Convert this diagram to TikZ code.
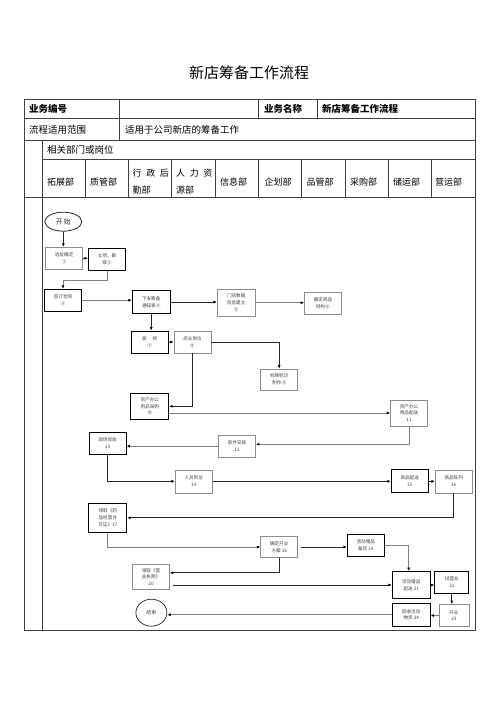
\documentclass[tikz,border=0pt]{standalone}
\usepackage{fontspec}
\setmainfont{Noto Sans CJK SC}
\usetikzlibrary{arrows.meta,calc,shapes.geometric}
\begin{document}
\begin{tikzpicture}[x=1pt,y=-1pt,
  gridline/.style={draw=black!75,line width=0.8pt},
  boxk/.style={draw=black,line width=0.8pt,fill=white,inner sep=0pt,align=center,
    font=\fontsize{4.6}{6.6}\selectfont,text=black!75},
  boxg/.style={boxk,draw=black!45,line width=0.6pt},
  lk/.style={draw=black!85,line width=0.8pt,-{Latex[length=3.5pt,width=3pt,color=black]}},
  lg/.style={lk,draw=black!50},
  hd/.style={anchor=west,inner sep=0pt,font=\fontsize{9.5}{11}\selectfont},
  hdb/.style={hd,font=\fontsize{9.5}{11}\selectfont\bfseries},
  dept/.style={anchor=west,inner sep=0pt,align=left,font=\fontsize{9}{17}\selectfont}
]
\useasboundingbox (0,0) rectangle (500,707);
% title
\node[font=\fontsize{15}{17}\selectfont] (title) at (249,73) {新店筹备工作流程};
% header table
\draw[gridline] (24,99) rectangle (475,630);
\draw[gridline] (24,118.5) -- (475,118.5);
\draw[gridline] (24,140) -- (475,140);
\draw[gridline] (42.5,159) -- (475,159);
\draw[gridline] (24,197) -- (475,197);
\draw[gridline] (42.5,140) -- (42.5,630);
\draw[gridline] (119.3,99) -- (119.3,140);
\draw[gridline] (258.3,99) -- (258.3,118.5);
\draw[gridline] (317.7,99) -- (317.7,118.5);
\foreach \xx in {85.7,128.5,171.7,215,258.3,301.7,345,388.3,431.7}
  \draw[gridline] (\xx,159) -- (\xx,197);
\node[hdb] (h1) at (29,109) {业务编号};
\node[hdb] (h2) at (264,109) {业务名称};
\node[hdb] (h3) at (322,109) {新店筹备工作流程};
\node[hd] (h4) at (29,129.5) {流程适用范围};
\node[hd] (h5) at (125,129.5) {适用于公司新店的筹备工作};
\node[hd] (h6) at (47,149.5) {相关部门或岗位};
\node[dept] (d1) at (47,181.7) {拓展部};
\node[dept] (d2) at (90,181.7) {质管部};
\node[dept] (d3) at (132.5,181.7) {行\hspace{4.6pt}政\hspace{4.6pt}后\\勤部};
\node[dept] (d4) at (176,181.7) {人\hspace{4.6pt}力\hspace{4.6pt}资\\源部};
\node[dept] (d5) at (220,181.7) {信息部};
\node[dept] (d6) at (264.5,181.7) {企划部};
\node[dept] (d7) at (306.5,181.7) {品管部};
\node[dept] (d8) at (350,181.7) {采购部};
\node[dept] (d9) at (393,181.7) {储运部};
\node[dept] (d10) at (435,181.7) {营运部};
% flow nodes
\node[ellipse,draw=black!85,line width=0.8pt,minimum width=37pt,minimum height=19pt,inner sep=0pt,
  font=\fontsize{7}{8}\selectfont,text=black!80] (start) at (63.3,221.7) {开\hspace{1pt}始};
\node[boxg,minimum width=37pt,minimum height=22pt] (n1) at (64.2,258.2) {选址确定\\①};
\node[boxk,minimum width=37pt,minimum height=22pt] (n2) at (107,259.5) {立项、勘\\察②};
\node[boxk,minimum width=37pt,minimum height=22pt] (n3) at (63,300.2) {签订合同\\③};
\node[boxk,minimum width=38pt,minimum height=23pt] (n4) at (151.2,302) {下发筹备\\通知表④};
\node[boxg,minimum width=38pt,minimum height=27pt] (n5) at (236.2,302.7) {门店数据\\信息建立\\⑤};
\node[boxg,minimum width=37pt,minimum height=22pt] (n6) at (323,303.3) {确定商品\\结构⑥};
\node[boxk,minimum width=37pt,minimum height=22pt] (n7) at (149.7,342) {装\hspace{6pt}修\\⑦};
\node[boxg,minimum width=37pt,minimum height=22pt] (n8) at (192.5,342) {店长到位\\⑧};
\node[boxg,minimum width=37pt,minimum height=21pt] (n9) at (279.2,379.5) {标牌标识\\制作⑨};
\node[boxk,minimum width=38pt,minimum height=26pt] (n10) at (149.8,406.3) {资产办公\\用品采购\\⑩};
\node[boxg,minimum width=37pt,minimum height=26pt] (n11) at (409,413) {资产办公\\用品配送\\11};
\node[boxg,minimum width=37pt,minimum height=22pt] (n12) at (237,446.2) {软件安装\\12};
\node[boxk,minimum width=37pt,minimum height=22pt] (n13) at (107.5,443.3) {现场验收\\13};
\node[boxg,minimum width=37pt,minimum height=23pt] (n14) at (193.7,481.3) {人员到位\\14};
\node[boxk,minimum width=37pt,minimum height=23pt] (n15) at (409.7,481.3) {商品配送\\15};
\node[boxg,minimum width=37pt,minimum height=23pt] (n16) at (453.7,481.3) {商品陈列\\16};
\node[boxk,minimum width=38pt,minimum height=29pt] (n17) at (107.8,517.8) {领取《药\\品经营许\\可证》17};
\node[boxg,minimum width=37pt,minimum height=21pt] (n18) at (279.2,547) {确定开业\\方案 18};
\node[boxk,minimum width=37pt,minimum height=22pt] (n19) at (365.8,545.5) {活动赠品\\备货 19};
\node[boxg,minimum width=37pt,minimum height=25pt] (n20) at (151,576.8) {领取《营\\业执照》\\20};
\node[boxk,minimum width=38pt,minimum height=27pt] (n21) at (411.2,585) {活动赠品\\配送 21};
\node[boxk,minimum width=34pt,minimum height=22pt] (n22) at (451.8,582.2) {试营业\\22};
\node[boxg,minimum width=30pt,minimum height=22pt] (n23) at (453.8,615.5) {开业\\23};
\node[boxk,minimum width=38pt,minimum height=23pt] (n24) at (411.2,614.7) {回收活动\\物资 24};
\node[ellipse,draw=black!85,line width=0.7pt,minimum width=31pt,minimum height=27pt,inner sep=0pt,
  font=\fontsize{5}{6}\selectfont,text=black!75] (stop) at (151.4,612.7) {结束};
% connectors
\draw[lk] (start.south) -- (start.south |- n1.north);
\draw[lk] (n1.east) -- (n1.east -| n2.west);
\draw[lg] (n2.south) -- ++(0,9.5) -| (n3.north);
\draw[lg] (n3.east) -- (n3.east -| n4.west);
\draw[lk] (n4.east) -- (n4.east -| n5.west);
\draw[lg] (n5.east) -- (n5.east -| n6.west);
\draw[lk] (n4.south) -- (n4.south |- n7.north);
\draw[lk] (n7.east) -- (n8.west);
\draw[lk] (n8.east) -| (n9.north);
\draw[lk] (n8.south) |- (n10.east);
\draw[lg] (n11.west -| n10.east) -- (n11.west);
\draw[lg] (n11.south) |- ([yshift=2pt]n12.east);
\draw[lg] (n12.west) -- (n12.west -| n13.east);
\draw[lk] (n13.south) |- (n14.west);
\draw[lk] (n14.east) -- (n15.west);
\draw[lk] (n15.east) -- (n16.west);
\draw[lk] (n16.south) |- (n17.east);
\draw[lg] (n17.south) |- (n18.west);
\draw[lk] ([xshift=3pt]n18.east) -- (n18.east -| n19.west);
\draw[lk] (n18.south) |- ([yshift=4pt]n20.east);
\draw[lk] ([xshift=3.5pt]n20.east |- n21.west) -- (n21.west);
\draw[lg] (n19.east) -| ([xshift=-2.5pt]n21.north);
\draw[lk] (n21.east) -- (n21.east -| n22.west);
\draw[lk] (n22.south) -- (n22.south |- n23.north);
\draw[lg] (n23.west) -- (n23.west -| n24.east);
\draw[lg] (n24.west) -- (n24.west -| stop.east);
\end{tikzpicture}
\end{document}
